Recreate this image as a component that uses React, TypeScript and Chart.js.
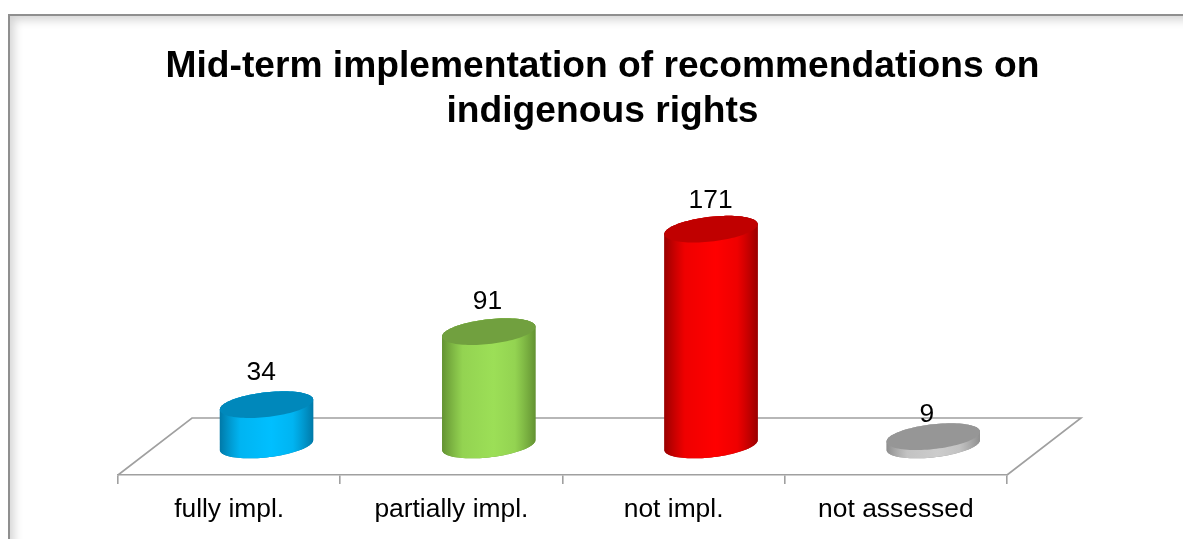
import React, { useEffect, useRef } from "react";
import { Chart, registerables } from "chart.js";

Chart.register(...registerables);

const titleLines = ["Mid-term implementation of recommendations on", "indigenous rights"];
const categories = ["fully impl.", "partially impl.", "not impl.", "not assessed"];
const counts = [34, 91, 171, 9];
const sideEdge = ["#0079A8", "#639232", "#9A0000", "#8E8E8E"];
const sideMid = ["#00BFFF", "#9CDF57", "#FF0000", "#CCCCCC"];
const capFill = ["#0088BB", "#71A03F", "#C00000", "#969696"];
const labelLift = [33.6, 31.6, 30.2, 23.6];
const labelShift = [-5, -1, 0, -6];

const AXIS_GREY = "#A0A0A0";
const FONT = '"Liberation Sans", Arial, sans-serif';
const DEPTH_X = 74;
const DEPTH_Y = 57;

function ellipsePoint(cx: number, cy: number, a: number, t: number): [number, number] {
  const shear = a * 0.106;
  const b = a * 0.266;
  return [cx + a * Math.cos(t), cy - shear * Math.cos(t) - b * Math.sin(t)];
}

const cylinderPlugin = {
  id: "cylinder",
  beforeDatasetsDraw(chart: any) {
    const { ctx, chartArea } = chart;
    const { left, right, bottom } = chartArea;
    ctx.save();
    ctx.strokeStyle = AXIS_GREY;
    ctx.lineWidth = 1.6;
    ctx.beginPath();
    ctx.moveTo(left, bottom);
    ctx.lineTo(left + DEPTH_X, bottom - DEPTH_Y);
    ctx.lineTo(right + DEPTH_X, bottom - DEPTH_Y);
    ctx.lineTo(right, bottom);
    ctx.stroke();
    ctx.restore();
  },
  beforeDatasetDraw(chart: any, args: any) {
    const { ctx } = chart;
    const meta = args.meta;
    const dx = DEPTH_X / 2 + 0.4;
    const dy = -DEPTH_Y / 2 - 1.5;
    meta.data.forEach((bar: any, i: number) => {
      const p = bar.getProps(["x", "y", "base", "width"], true);
      const cx = p.x + dx;
      const top = p.y + dy;
      const base = p.base + dy;
      const a = p.width / 2;
      const g = ctx.createLinearGradient(cx - a, 0, cx + a, 0);
      g.addColorStop(0, sideEdge[i]);
      g.addColorStop(0.22, sideMid[i] + "D8");
      g.addColorStop(0.55, sideMid[i]);
      g.addColorStop(0.78, sideMid[i] + "D8");
      g.addColorStop(1, sideEdge[i]);
      ctx.save();
      const steps = 48;
      const side = new Path2D();
      for (let k = 0; k <= steps; k++) {
        const [px, py] = ellipsePoint(cx, base, a, Math.PI + (Math.PI * k) / steps);
        if (k === 0) side.moveTo(px, py);
        else side.lineTo(px, py);
      }
      for (let k = 0; k <= steps; k++) {
        const [px, py] = ellipsePoint(cx, top, a, (Math.PI * k) / steps);
        side.lineTo(px, py);
      }
      side.closePath();
      ctx.fillStyle = sideEdge[i];
      ctx.fill(side);
      ctx.fillStyle = g;
      ctx.fill(side);
      const cap = new Path2D();
      for (let k = 0; k <= steps * 2; k++) {
        const [px, py] = ellipsePoint(cx, top, a, (Math.PI * k) / steps);
        if (k === 0) cap.moveTo(px, py);
        else cap.lineTo(px, py);
      }
      cap.closePath();
      ctx.fillStyle = capFill[i];
      ctx.fill(cap);
      ctx.restore();
    });
    return false;
  },
  afterDatasetsDraw(chart: any) {
    const { ctx } = chart;
    const meta = chart.getDatasetMeta(0);
    ctx.save();
    ctx.fillStyle = "#000";
    ctx.font = `26.4px ${FONT}`;
    ctx.textAlign = "center";
    ctx.textBaseline = "middle";
    meta.data.forEach((bar: any, i: number) => {
      const p = bar.getProps(["x", "y"], true);
      ctx.fillText(
        String(counts[i]),
        p.x + DEPTH_X / 2 + labelShift[i],
        p.y - DEPTH_Y / 2 - labelLift[i]
      );
    });
    ctx.restore();
  },
  beforeDraw(chart: any) {
    const block = chart.titleBlock;
    if (block && !block.$moved) {
      block.left += 40;
      block.right += 40;
      block.$moved = true;
    }
  },
};

export default function App() {
  const ref = useRef<HTMLCanvasElement>(null);
  useEffect(() => {
    document.body.style.margin = "0";
    document.body.style.overflow = "hidden";
    const chart = new Chart(ref.current!, {
      type: "bar",
      data: {
        labels: categories,
        datasets: [
          {
            data: counts,
            base: 2.5,
            backgroundColor: sideMid,
            barPercentage: 0.42,
            categoryPercentage: 1,
          },
        ],
      },
      options: {
        responsive: false,
        animation: false,
        layout: { padding: { left: 118, right: 176, top: 0, bottom: 0 } },
        plugins: {
          legend: { display: false },
          tooltip: { enabled: false },
          title: {
            display: true,
            text: titleLines,
            color: "#000",
            font: { family: FONT, size: 37.2, weight: "bold", lineHeight: 1.21 },
            padding: { top: 44, bottom: 6 },
          },
        },
        scales: {
          x: {
            grid: {
              display: true,
              drawOnChartArea: false,
              drawTicks: true,
              tickLength: 9,
              color: AXIS_GREY,
              lineWidth: 1.6,
            },
            border: { display: true, color: AXIS_GREY, width: 1.6 },
            ticks: {
              color: "#000",
              font: { family: FONT, size: 26.4 },
              maxRotation: 0,
              autoSkip: false,
              padding: 10,
            },
            afterFit(scale: any) {
              scale.height = 64;
            },
          },
          y: { display: false, min: 2.5, max: 264 },
        },
      },
      plugins: [cylinderPlugin],
    } as any);
    return () => chart.destroy();
  }, []);
  return (
    <div style={{ position: "fixed", inset: 0, overflow: "hidden", background: "#fff" }}>
      <div
        style={{
          position: "absolute",
          left: 8,
          top: 14,
          width: 1400,
          height: 800,
          border: "2px solid #8F8F8F",
          boxShadow: "inset 4px 4px 10px #D4D4D4",
          background: "#fff",
        }}
      />
      <canvas
        ref={ref}
        width={1183}
        height={539}
        style={{ position: "absolute", left: 0, top: 0, display: "block" }}
      />
    </div>
  );
}
